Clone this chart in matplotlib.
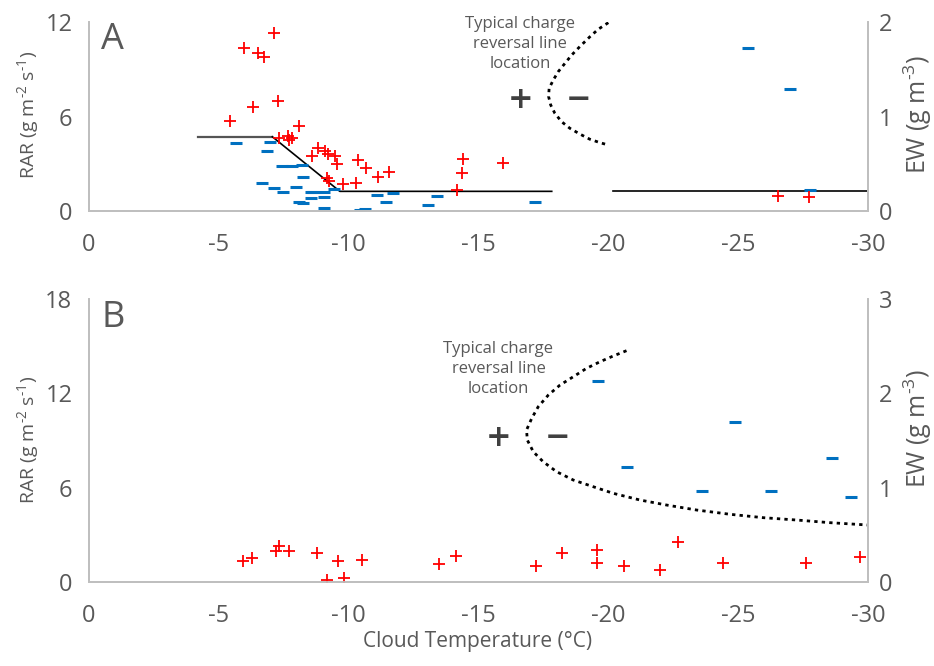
import matplotlib
matplotlib.use('Agg')
import matplotlib.pyplot as plt

plt.rcParams['font.family'] = ['Open Sans', 'DejaVu Sans']
plt.rcParams['axes.unicode_minus'] = False
plt.rcParams['mathtext.fontset'] = 'custom'
plt.rcParams['mathtext.rm'] = 'Open Sans'

# panel A: positive charge (RAR, left axis)
a_pos_t = [-7.14, -5.97, -6.50, -6.74, -7.27, -6.32, -5.43, -8.09, -7.33, -7.65, -7.81,
           -7.71, -8.83, -9.09, -8.58, -9.21, -9.47, -9.56, -10.35, -10.65, -9.15, -9.25,
           -9.79, -10.27, -11.12, -11.55, -14.41, -14.37, -14.16, -15.95, -26.52, -27.74]
a_pos_rar = [11.32, 10.37, 10.05, 9.80, 7.00, 6.58, 5.73, 5.42, 4.65, 4.76, 4.65,
             4.51, 3.98, 3.83, 3.51, 3.62, 3.51, 2.98, 3.24, 2.71, 2.08, 1.92,
             1.71, 1.76, 2.14, 2.50, 3.28, 2.39, 1.33, 3.03, 0.95, 0.91]

# panel A: negative charge (EW, right axis)
a_neg_t = [-5.65, -6.97, -6.84, -7.42, -7.81, -8.19, -8.23, -6.65, -7.14, -7.48, -7.97,
           -8.56, -8.64, -9.05, -9.43, -8.54, -9.05, -8.10, -8.25, -9.05, -10.45, -10.63,
           -11.08, -11.44, -11.72, -13.39, -13.07, -17.17, -25.39, -26.99, -27.76]
a_neg_ew = [0.72, 0.73, 0.64, 0.48, 0.48, 0.49, 0.36, 0.30, 0.24, 0.20, 0.25,
            0.20, 0.20, 0.20, 0.23, 0.134, 0.145, 0.098, 0.081, 0.029, 0.012, 0.018,
            0.17, 0.092, 0.19, 0.159, 0.063, 0.092, 1.73, 1.29, 0.22]

# panel A: threshold line (EW)
a_line1_t = [-4.21, -7.06]
a_line1_ew = [0.786, 0.786]
a_line2_t = [-7.06, -9.66, -17.82]
a_line2_ew = [0.786, 0.208, 0.208]
a_line3_t = [-20.19, -30.0]
a_line3_ew = [0.208, 0.208]

# panel A: charge reversal curve (EW)
a_curve_t = [-20.0, -19.61, -19.29, -18.9, -18.59, -18.33, -18.07, -17.88, -17.72, -17.70,
             -17.78, -17.94, -18.20, -18.52, -18.9, -19.29, -19.68, -20.0]
a_curve_ew = [1.993, 1.923, 1.844, 1.739, 1.651, 1.563, 1.474, 1.386, 1.298, 1.21,
              1.122, 1.034, 0.945, 0.875, 0.815, 0.759, 0.723, 0.698]

# panel B
b_pos_t = [-5.92, -6.29, -7.20, -7.33, -7.71, -8.79, -9.58, -10.50, -9.15, -9.83, -13.49,
           -14.12, -17.21, -18.23, -19.57, -19.55, -20.61, -21.99, -22.67, -24.40, -27.61, -29.69]
b_pos_rar = [1.34, 1.51, 1.99, 2.31, 1.99, 1.83, 1.34, 1.40, 0.13, 0.24, 1.13,
             1.67, 1.02, 1.83, 2.04, 1.19, 1.04, 0.76, 2.53, 1.23, 1.19, 1.57]
b_neg_t = [-19.61, -24.87, -20.70, -23.59, -26.25, -28.60, -29.33]
b_neg_ew = [2.13, 1.70, 1.216, 0.968, 0.968, 1.31, 0.904]

b_curve_t = [-20.70, -20.19, -19.68, -19.16, -18.65, -18.14, -17.69, -17.30, -17.05, -16.85,
             -16.88, -17.11, -17.49, -18.01, -18.65, -19.42, -20.19, -21.22, -22.24, -23.40,
             -24.68, -25.96, -27.25, -28.53, -30.0]
b_curve_ew = [2.452, 2.396, 2.335, 2.265, 2.176, 2.088, 1.982, 1.858, 1.735, 1.611,
              1.505, 1.381, 1.275, 1.169, 1.081, 1.010, 0.940, 0.869, 0.816, 0.763,
              0.718, 0.682, 0.657, 0.629, 0.604]

x_ticks = [0, -5, -10, -15, -20, -25, -30]
x_labels = ['0', '-5', '-10', '-15', '-20', '-25', '-30']

gray = '#595959'
spine_c = '#BFBFBF'
red = '#FF0000'
blue = '#0070C0'

W, H = 934, 666
fig = plt.figure(figsize=(W / 100, H / 100), dpi=100)


def make_axes(top_px, bot_px, rar_max, ew_max, letter):
    ax = fig.add_axes([89 / W, 1 - bot_px / H, (868 - 89) / W, (bot_px - top_px) / H])
    ax2 = ax.twinx()
    ax.set_xlim(0, -30)
    ax.set_ylim(0, rar_max)
    ax2.set_ylim(0, ew_max)
    ax.set_xticks(x_ticks)
    ax.set_xticklabels(x_labels)
    ax.set_yticks(range(0, rar_max + 1, 6))
    ax2.set_yticks(range(0, ew_max + 1))
    for a in (ax, ax2):
        for s in a.spines.values():
            s.set_color(spine_c)
            s.set_linewidth(1.3)
        a.spines['top'].set_visible(False)
        a.tick_params(length=0, labelsize=17, labelcolor=gray)
    ax.tick_params(axis='x', pad=16)
    ax.tick_params(axis='y', pad=12)
    ax2.tick_params(axis='y', pad=8)
    ax.text(0.016, 1.0 - 25 / (bot_px - top_px) - 0.01, letter, transform=ax.transAxes,
            fontsize=26, color=gray, va='baseline', ha='left')
    return ax, ax2


axA, axA2 = make_axes(22, 211, 12, 2, 'A')
axB, axB2 = make_axes(299, 582, 18, 3, 'B')

# panel A
axA2.plot(a_line1_t, a_line1_ew, color='#555555', lw=1.6, zorder=2)
axA2.plot(a_line2_t, a_line2_ew, color='black', lw=1.2, zorder=2)
axA2.plot(a_line3_t, a_line3_ew, color='black', lw=1.2, zorder=2)
axA2.plot(a_curve_t, a_curve_ew, color='black', lw=2, linestyle=(0, (1.2, 1.5)))
axA2.plot(a_neg_t, a_neg_ew, linestyle='none', marker='_', ms=8.6, mew=2.2, color=blue)
axA.plot(a_pos_t, a_pos_rar, linestyle='none', marker='+', ms=9, mew=1.3, color=red, zorder=5)
axA.set_zorder(axA2.get_zorder() + 1)
axA.patch.set_visible(False)

# panel B
axB2.plot(b_curve_t, b_curve_ew, color='black', lw=2, linestyle=(0, (1.2, 1.5)))
axB2.plot(b_neg_t, b_neg_ew, linestyle='none', marker='_', ms=8.6, mew=2.2, color=blue)
axB.plot(b_pos_t, b_pos_rar, linestyle='none', marker='+', ms=9, mew=1.3, color=red)
axB.set_zorder(axB2.get_zorder() + 1)
axB.patch.set_visible(False)

note = 'Typical charge\nreversal line\nlocation'
note_font = ['Liberation Sans Narrow', 'Open Sans']
axA.text(-16.6, 10.6, note, ha='center', va='center', fontsize=12, color=gray,
         family=note_font, linespacing=1.3)
axB.text(-15.77, 13.55, note, ha='center', va='center', fontsize=12, color=gray,
         family=note_font, linespacing=1.3)

sign_kw = dict(ha='center', va='center', fontsize=22, fontweight='bold', color='#404040',
               family='DejaVu Sans')
axA.text(-16.62, 7.09, '+', **sign_kw)
axA.text(-18.87, 7.09, '\u2212', **sign_kw)
axB.text(-15.76, 9.2, '+', **sign_kw)
axB.text(-18.05, 9.2, '\u2212', **sign_kw)

# axis titles
rar_lab = r'RAR (g m$^{\text{-2}}$ s$^{\text{-1}}$)'
ew_lab = r'EW (g m$^{\text{-3}}$)'
fig.text(29 / W, 1 - 115 / H, rar_lab, rotation=90, ha='center', va='center', fontsize=14, color=gray)
fig.text(29 / W, 1 - 440 / H, rar_lab, rotation=90, ha='center', va='center', fontsize=14, color=gray)
fig.text(918 / W, 1 - 114 / H, ew_lab, rotation=90, ha='center', va='center', fontsize=18, color=gray)
fig.text(918 / W, 1 - 428 / H, ew_lab, rotation=90, ha='center', va='center', fontsize=18, color=gray)
fig.text(478 / W, 1 - 641 / H, 'Cloud Temperature (°C)', ha='center', va='center', fontsize=15, color=gray)

fig.savefig('out.png', dpi=100)
